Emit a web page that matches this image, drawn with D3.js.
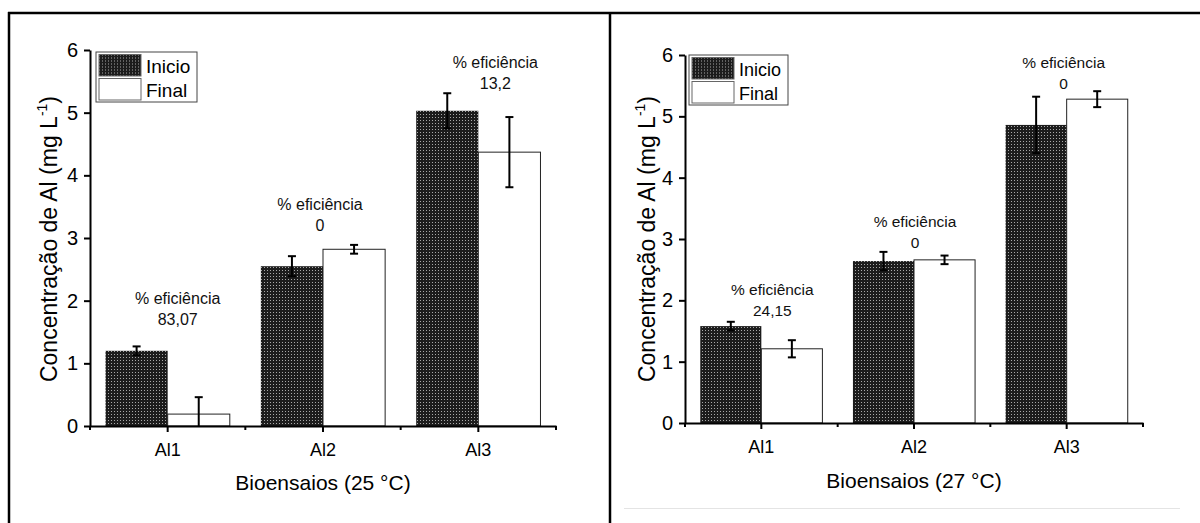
<!DOCTYPE html>
<html>
<head>
<meta charset="utf-8">
<script src="https://cdn.jsdelivr.net/npm/d3@7"></script>
<style>
body { margin: 0; background: #fff; }
svg { display: block; font-family: "Liberation Sans", Arial, sans-serif; }
</style>
</head>
<body>
<svg id="graph"></svg>
<script>
var categories = ["Al1", "Al2", "Al3"]
var series = ["Inicio", "Final"]
var yTicks = [0, 1, 2, 3, 4, 5, 6]

// 25 °C
var inicio25 = [1.20, 2.55, 5.03]
var inicio25Err = [0.07, 0.16, 0.28]
var final25 = [0.19, 2.82, 4.37]
var final25Err = [0.27, 0.07, 0.56]
var eff25 = ["83,07", "0", "13,2"]

// 27 °C
var inicio27 = [1.58, 2.64, 4.86]
var inicio27Err = [0.07, 0.15, 0.46]
var final27 = [1.21, 2.66, 5.28]
var final27Err = [0.14, 0.07, 0.13]
var eff27 = ["24,15", "0", "0"]

var makeTranslateString = function(x, y)
{
    return "translate(" + x + "," + y + ")";
}

var svgw = 1200
var svgh = 523

var svg = d3.select("#graph")
    .attr("width", svgw)
    .attr("height", svgh)

var defs = svg.append("defs")
var pat = defs.append("pattern")
    .attr("id", "dots")
    .attr("patternUnits", "userSpaceOnUse")
    .attr("width", 3)
    .attr("height", 3)
pat.append("rect").attr("width", 3).attr("height", 3).attr("fill", "#1c1c1c")
pat.append("rect").attr("width", 1).attr("height", 1).attr("fill", "#a8a8a8")

// table-like frame around the two figures
svg.append("line").attr("x1", 8).attr("x2", 1200).attr("y1", 13).attr("y2", 13)
    .attr("stroke", "#000").attr("stroke-width", 2.5)
svg.append("line").attr("x1", 9).attr("x2", 9).attr("y1", 12).attr("y2", 523)
    .attr("stroke", "#000").attr("stroke-width", 2.5)
svg.append("line").attr("x1", 610).attr("x2", 610).attr("y1", 12).attr("y2", 523)
    .attr("stroke", "#000").attr("stroke-width", 2.5)
svg.append("line").attr("x1", 624).attr("x2", 1180).attr("y1", 508.5).attr("y2", 508.5)
    .attr("stroke", "#e4e4e4").attr("stroke-width", 1)

var drawPanel = function(cfg)
{
    var target = svg.append("g")

    var xscale = d3.scaleBand()
        .domain(categories)
        .range([cfg.x0, cfg.x1])

    var inner = d3.scaleBand()
        .domain(series)
        .range([0, xscale.bandwidth()])
        .paddingInner(0)
        .paddingOuter(0.25)

    var yscale = d3.scaleLinear()
        .domain([0, 6])
        .range([cfg.y0, cfg.y1])

    var rows = []
    categories.forEach(function(c, i)
    {
        rows.push({cat: c, s: "Inicio", v: cfg.inicio[i], e: cfg.inicioErr[i]})
        rows.push({cat: c, s: "Final", v: cfg.final[i], e: cfg.finalErr[i]})
    })

    // bars
    target.selectAll("rect.bar")
        .data(rows)
        .enter()
        .append("rect")
        .classed("bar", true)
        .attr("x", function(d) { return xscale(d.cat) + inner(d.s) })
        .attr("y", function(d) { return yscale(d.v) })
        .attr("width", inner.bandwidth())
        .attr("height", function(d) { return yscale(0) - yscale(d.v) })
        .attr("fill", function(d)
        {
            if (d.s == "Inicio") { return "url(#dots)" }
            return "#fff"
        })
        .attr("stroke", function(d)
        {
            if (d.s == "Inicio") { return "none" }
            return "#222"
        })
        .attr("stroke-width", 1)

    // error bars
    var capw = 4
    var eb = target.selectAll("g.err")
        .data(rows)
        .enter()
        .append("g")
        .classed("err", true)
        .attr("stroke", "#000")
        .attr("stroke-width", 2)
    var cx = function(d) { return xscale(d.cat) + inner(d.s) + inner.bandwidth() / 2 }
    eb.append("line")
        .attr("x1", cx).attr("x2", cx)
        .attr("y1", function(d) { return yscale(d.v + d.e) })
        .attr("y2", function(d) { return yscale(Math.max(0, d.v - d.e)) })
    eb.append("line")
        .attr("x1", function(d) { return cx(d) - capw }).attr("x2", function(d) { return cx(d) + capw })
        .attr("y1", function(d) { return yscale(d.v + d.e) })
        .attr("y2", function(d) { return yscale(d.v + d.e) })
    eb.filter(function(d) { return d.v - d.e > 0 })
        .append("line")
        .attr("x1", function(d) { return cx(d) - capw }).attr("x2", function(d) { return cx(d) + capw })
        .attr("y1", function(d) { return yscale(d.v - d.e) })
        .attr("y2", function(d) { return yscale(d.v - d.e) })

    // axes
    var yAxis = d3.axisLeft(yscale)
        .tickValues(yTicks)
        .tickFormat(d3.format("d"))
        .tickSize(6)
        .tickSizeOuter(0)
        .tickPadding(6)
    var ya = target.append("g")
        .attr("transform", makeTranslateString(cfg.x0, 0))
        .call(yAxis)
    ya.selectAll("text").style("font-size", "20px").attr("fill", "#000")

    var xAxis = d3.axisBottom(xscale)
        .tickSize(6)
        .tickSizeOuter(0)
        .tickPadding(11)
    var xa = target.append("g")
        .attr("transform", makeTranslateString(0, cfg.y0))
        .call(xAxis)
    xa.selectAll("text").style("font-size", "18px").attr("fill", "#000")

    // minor ticks at group edges
    var edges = categories.map(function(c) { return xscale(c) })
    edges.push(cfg.x1)
    xa.selectAll("line.minor")
        .data(edges)
        .enter()
        .append("line")
        .classed("minor", true)
        .attr("x1", function(d) { return d }).attr("x2", function(d) { return d })
        .attr("y1", 0).attr("y2", 4)
        .attr("stroke", "#000")

    svg.selectAll(".domain, .tick line").attr("stroke", "#000").attr("stroke-width", 2)
    xa.selectAll("line.minor").attr("stroke-width", 2)

    // efficiency labels
    var ann = target.selectAll("g.ann")
        .data(categories)
        .enter()
        .append("g")
        .classed("ann", true)
        .attr("transform", function(d, i)
        {
            return makeTranslateString(xscale(d) + xscale.bandwidth() / 2 + cfg.annDx[i], yscale(cfg.annY[i]))
        })
        .attr("text-anchor", "middle")
        .style("font-size", cfg.annSize + "px")
        .attr("fill", "#111")
    ann.append("text").text("% eficiência")
    ann.append("text").attr("y", 21).text(function(d, i) { return cfg.eff[i] })

    // legend
    var legend = target.append("g")
        .attr("transform", makeTranslateString(cfg.x0 + cfg.legDx, cfg.y1 + cfg.legDy))
    legend.append("rect")
        .attr("width", cfg.legW).attr("height", 50)
        .attr("fill", "#fff").attr("stroke", "#444").attr("stroke-width", 1)
    var entries = legend.selectAll("g")
        .data(series)
        .enter()
        .append("g")
        .attr("transform", function(d, i) { return makeTranslateString(3, 2.5 + i * 24) })
    entries.append("rect")
        .attr("width", 42).attr("height", 21.5)
        .attr("fill", function(d) { return d == "Inicio" ? "url(#dots)" : "#fff" })
        .attr("stroke", "#666").attr("stroke-width", 1)
    entries.append("text")
        .text(function(d) { return d })
        .attr("x", 47)
        .attr("y", 18)
        .style("font-size", cfg.legSize + "px")
        .attr("fill", "#000")

    // axis titles
    target.append("text")
        .attr("text-anchor", "middle")
        .attr("x", (cfg.x0 + cfg.x1) / 2)
        .attr("y", cfg.xTitleY)
        .style("font-size", "21px")
        .text(cfg.xTitle)

    var yt = target.append("text")
        .attr("text-anchor", "middle")
        .attr("transform", makeTranslateString(cfg.yTitleX, cfg.yTitleY) + " rotate(-90)")
        .style("font-size", "23px")
    yt.append("tspan").text("Concentração de Al (mg L")
    yt.append("tspan").text("-1").style("font-size", "14px").attr("dy", -10)
    yt.append("tspan").text(")").attr("dy", 10)
}

drawPanel({
    x0: 90, x1: 556, y0: 426, y1: 50,
    inicio: inicio25, inicioErr: inicio25Err,
    final: final25, finalErr: final25Err,
    eff: eff25,
    annDx: [10, -3, 17], annY: [1.94, 3.45, 5.71], annSize: 16,
    legDx: 6, legDy: 2, legW: 101, legSize: 19,
    xTitle: "Bioensaios (25 °C)", xTitleY: 490,
    yTitleX: 57, yTitleY: 239
})

drawPanel({
    x0: 685, x1: 1143, y0: 423, y1: 55,
    inicio: inicio27, inicioErr: inicio27Err,
    final: final27, finalErr: final27Err,
    eff: eff27,
    annDx: [11, 1, -3], annY: [2.09, 3.20, 5.79], annSize: 15.5,
    legDx: 4, legDy: 0, legW: 99, legSize: 18,
    xTitle: "Bioensaios (27 °C)", xTitleY: 488,
    yTitleX: 655, yTitleY: 239
})
</script>
</body>
</html>
